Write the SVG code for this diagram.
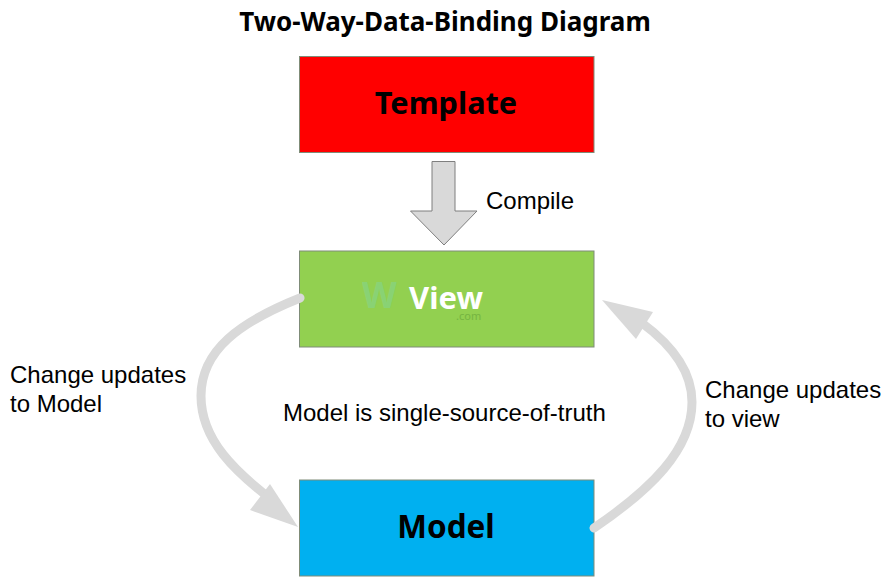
<svg xmlns="http://www.w3.org/2000/svg" width="892" height="580" viewBox="0 0 892 580">
<style>
.box{stroke:#7f8c78;stroke-width:1}
.t{font-family:"Noto Sans","Open Sans",sans-serif;font-weight:700;text-anchor:middle;fill:#000}
.l{font-family:"Liberation Sans",Arial,sans-serif;font-size:24px;fill:#000}
.arc{fill:none;stroke:#d9d9d9;stroke-linecap:round}
.head{fill:#d9d9d9}
</style>
<rect width="892" height="580" fill="#fff"/>
<text id="title" class="t" x="445" y="31" font-size="26">Two-Way-Data-Binding Diagram</text>
<g id="template"><rect class="box" x="299.500" y="56.500" width="294.500" height="96" fill="#ff0000"/><text class="t" x="446" y="114" font-size="30.700">Template</text></g>
<g id="view"><rect class="box" x="299.500" y="251" width="294.500" height="96" fill="#92d050"/>
<text x="362" y="308" font-family="Noto Sans,sans-serif" font-size="36" font-weight="700" fill="#7fd6a0" opacity=".45">W</text>
<text x="456" y="320" font-family="Noto Sans,sans-serif" font-size="11" fill="#6fae3e" opacity=".8">.com</text>
<text class="t" x="446" y="309" font-size="31" style="fill:#fff">View</text></g>
<g id="model"><rect class="box" x="299.500" y="480" width="294.500" height="96" fill="#00b0f0"/><text class="t" x="446" y="538" font-size="31.500">Model</text></g>
<g id="connectors">
<path d="M432 161.500H455V211H477L444 245L410.500 211H432Z" fill="#d9d9d9" stroke="#7f7f7f" stroke-width="1"/>
<path class="arc" stroke-width="9" d="M300 298C240 322 201 350 201 396C201 440 235 472 276 503"/>
<path class="head" d="M298 527L270 484L250 510Z"/>
<path class="arc" stroke-width="9" d="M594 528C650 490 692 450 692 402C692 366 665 340 642 323"/>
<path class="head" d="M602 300L653 312L636 339Z"/>
</g>
<text class="l" x="486" y="209">Compile</text>
<text class="l" x="10" y="383">Change updates</text>
<text class="l" x="10" y="412">to Model</text>
<text class="l" x="283" y="421">Model is single-source-of-truth</text>
<text class="l" x="705" y="398">Change updates</text>
<text class="l" x="705" y="427">to view</text>
</svg>
